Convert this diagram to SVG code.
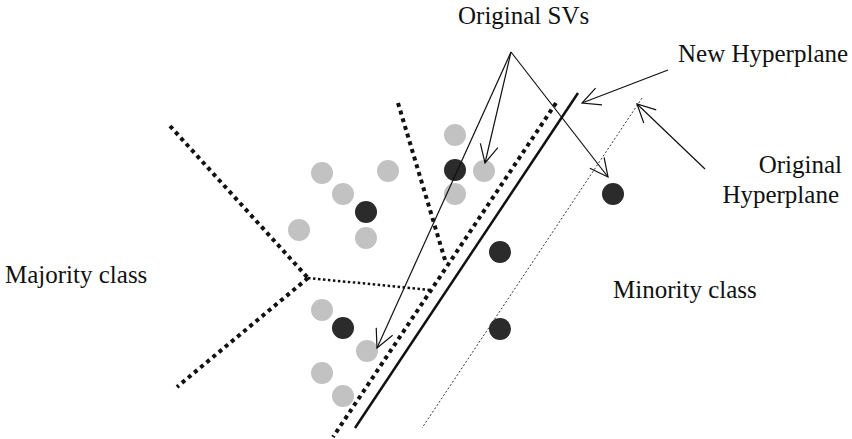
<svg xmlns="http://www.w3.org/2000/svg" width="852" height="439" viewBox="0 0 852 439">
<defs>
<marker id="open" markerUnits="userSpaceOnUse" viewBox="-20 -10 22 20" refX="0" refY="0" markerWidth="22" markerHeight="20" orient="auto">
<path d="M -18 -9 L 0 0 L -18 9" fill="none" stroke="#111" stroke-width="1.2"/>
</marker>
</defs>
<style>
text { font-family: "Liberation Serif", "Times New Roman", serif; font-size: 25px; fill: #111; }
.thick { stroke: #111; stroke-width: 4; stroke-dasharray: 4 4; fill: none; }
.thin { stroke: #111; stroke-width: 2.5; stroke-dasharray: 2.5 2.5; fill: none; }
.solid { stroke: #111; stroke-width: 2.5; fill: none; }
.orig { stroke: #333; stroke-width: 1; stroke-dasharray: 2 2; fill: none; }
.arrow { stroke: #111; stroke-width: 1.2; fill: none; marker-end: url(#open); }
.light { fill: #c2c2c2; }
.dark { fill: #2b2b2b; }
</style>
<rect width="852" height="439" fill="#fff"/>
<g id="boundaries">
<line class="thick" x1="170" y1="126" x2="308" y2="278"/>
<line class="thick" x1="308" y1="278" x2="177" y2="387"/>
<line class="thin" x1="308" y1="278" x2="431" y2="290"/>
<line class="thick" x1="398" y1="103" x2="445" y2="260"/>
<line class="thick" x1="556" y1="103" x2="333" y2="437"/>
</g>
<g id="new-hyperplane">
<line class="solid" x1="578" y1="93" x2="355" y2="428"/>
</g>
<g id="original-hyperplane">
<line class="orig" x1="642" y1="98" x2="422" y2="428"/>
</g>
<g id="majority-points">
<circle class="light" cx="455" cy="135" r="11"/>
<circle class="light" cx="322" cy="173" r="11"/>
<circle class="light" cx="388" cy="171" r="11"/>
<circle class="light" cx="343" cy="194" r="11"/>
<circle class="light" cx="299" cy="230" r="11"/>
<circle class="light" cx="366" cy="238" r="11"/>
<circle class="light" cx="484" cy="171" r="11"/>
<circle class="light" cx="455" cy="194" r="11"/>
<circle class="light" cx="322" cy="310" r="11"/>
<circle class="light" cx="367" cy="351" r="11"/>
<circle class="light" cx="322" cy="373" r="11"/>
<circle class="light" cx="343" cy="396" r="11"/>
</g>
<g id="minority-points">
<circle class="dark" cx="366" cy="212" r="11"/>
<circle class="dark" cx="455" cy="170" r="11"/>
<circle class="dark" cx="343" cy="328" r="11"/>
<circle class="dark" cx="500" cy="252" r="11"/>
<circle class="dark" cx="500" cy="329" r="11"/>
<circle class="dark" cx="613" cy="194" r="11"/>
</g>
<g id="connectors">
<line class="arrow" x1="511" y1="52" x2="485" y2="163"/>
<line class="arrow" x1="511" y1="52" x2="377" y2="348"/>
<line class="arrow" x1="511" y1="52" x2="608" y2="177"/>
<line class="arrow" x1="668" y1="70" x2="582" y2="103"/>
<line class="arrow" x1="705" y1="169" x2="637" y2="104"/>
</g>
<g id="label-original-svs"><text x="458" y="24">Original SVs</text></g>
<g id="label-new-hyperplane"><text x="678" y="62">New Hyperplane</text></g>
<g id="label-original-hyperplane">
<text x="842" y="173" text-anchor="end">Original</text>
<text x="839" y="203" text-anchor="end">Hyperplane</text>
</g>
<g id="label-majority"><text x="5" y="283">Majority class</text></g>
<g id="label-minority"><text x="613" y="298">Minority class</text></g>
</svg>
